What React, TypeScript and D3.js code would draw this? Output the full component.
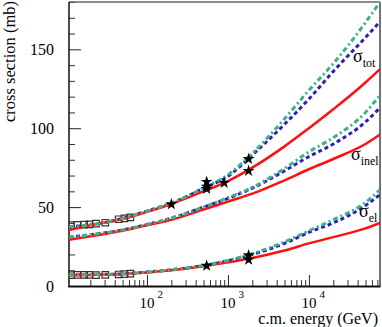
import React, { useEffect, useRef } from 'react';
import * as d3 from 'd3';

// c.m. energies (GeV) where the model curves were read
const energies = [10.9, 20, 50, 100, 200, 500, 1000, 2000, 5000, 10000, 20000, 50000, 75500];

// total cross section (mb)
const totRed = [35.5, 38.5, 42.5, 47, 52, 60, 66.5, 75, 88.5, 100, 112, 129, 137.5];
const totBlue = [37.5, 38.8, 42.8, 47.5, 52.5, 62, 69.5, 83, 102.5, 118.5, 136, 157.5, 167.5];
const totGreen = [37.5, 38.8, 42.8, 47.5, 52.5, 62, 70.5, 84, 106, 124, 141, 167, 180];

// inelastic
const inelRed = [29.3, 31.5, 35, 38.5, 42, 48.5, 53.5, 58.5, 67, 74, 80.5, 90, 96];
const inelBlue = [31, 32.5, 35.5, 39, 43, 50, 55.5, 62, 73, 82, 90, 104, 113];
const inelGreen = [31, 32.5, 35.5, 39, 43, 50, 56, 62.5, 74.5, 85, 94, 110, 121];

// elastic
const elRed = [6.8, 7, 7.5, 8.6, 10, 12.5, 15, 17.8, 22.5, 27, 31, 36.5, 40];
const elBlue = [7, 7.2, 7.7, 8.8, 10.3, 13, 16, 20, 27, 34, 40, 51, 58];
const elGreen = [7, 7.2, 7.7, 8.8, 10.3, 13, 16.2, 20.5, 28, 35, 42, 53, 61];

// data points
const squareE = [11.5, 13.8, 16.8, 19.4, 23.5, 30.6, 44.7, 52.8, 62.5];
const squareTot = [38.6, 38.7, 38.9, 39.1, 39.5, 40.1, 42.3, 42.9, 43.5];
const squareEl = [6.9, 7.0, 7.0, 7.0, 6.9, 7.1, 7.3, 7.5, 7.8];

const starTotE = [200, 546, 546, 546, 900, 1800, 1800];
const starTot = [51.8, 61.5, 63, 66, 65.4, 73, 80.5];
const starElE = [546, 1800, 1800];
const starEl = [12.8, 16.6, 19.5];

const xMajor = [100, 1000, 10000];
const xMajorExp = ['2', '3', '4'];
const yMajor = [0, 50, 100, 150];

const RED = '#ff1010';
const BLUE = '#2f1fb8';
const GREEN = '#3bb28a';
const FONT = "'Liberation Serif', 'Times New Roman', serif";

const App = () => {
  const ref = useRef<SVGSVGElement>(null);

  useEffect(() => {
    const svg = d3.select(ref.current);
    svg.selectAll('*').remove();

    const x = d3.scaleLog().domain([10.9, 75500]).range([69, 380]);
    const y = d3.scaleLinear().domain([0, 180]).range([286, 2]);

    svg.append('clipPath').attr('id', 'plot-clip')
      .append('rect').attr('x', 69).attr('y', 2).attr('width', 311).attr('height', 284);

    // y axis ticks
    const yMinor = d3.range(0, 181, 10).filter(v => v % 50 !== 0);
    svg.append('g')
      .attr('transform', 'translate(69,0)')
      .call(d3.axisLeft(y).tickValues(yMinor).tickSize(-6).tickFormat(() => ''))
      .call(g => g.select('.domain').remove())
      .attr('color', '#333');
    svg.append('g')
      .attr('transform', 'translate(69,0)')
      .call(d3.axisLeft(y).tickValues(yMajor).tickSize(-12).tickPadding(15).tickFormat(d3.format('d')))
      .call(g => g.select('.domain').remove())
      .attr('color', '#222')
      .selectAll('text')
      .style('font-family', FONT)
      .style('font-size', '16px')
      .attr('fill', '#000');

    // x axis ticks
    const xMinor: number[] = [];
    for (let p = 1; p <= 4; p++) {
      for (let k = 2; k <= 9; k++) {
        const v = k * Math.pow(10, p);
        if (v < 75500) xMinor.push(v);
      }
    }
    svg.append('g')
      .attr('transform', 'translate(0,286)')
      .call(d3.axisBottom(x).tickValues(xMinor).tickSize(-6).tickFormat(() => ''))
      .call(g => g.select('.domain').remove())
      .attr('color', '#333');
    svg.append('g')
      .attr('transform', 'translate(0,286)')
      .call(d3.axisBottom(x).tickValues(xMajor).tickSize(-11).tickFormat(() => ''))
      .call(g => g.select('.domain').remove())
      .attr('color', '#222');

    const xl = svg.append('g').style('font-family', FONT);
    xMajor.forEach((v, i) => {
      const t = xl.append('text').attr('x', x(v) - 7.5).attr('y', 308).style('font-size', '15px');
      t.append('tspan').text('10');
      t.append('tspan').attr('dx', 3).attr('dy', -10).style('font-size', '11px').text(xMajorExp[i]);
    });

    // frame
    svg.append('line').attr('x1', 69).attr('x2', 380).attr('y1', 2).attr('y2', 2)
      .attr('stroke', '#666').attr('stroke-width', 1.5);
    svg.append('line').attr('x1', 380).attr('x2', 380).attr('y1', 2).attr('y2', 286)
      .attr('stroke', '#444').attr('stroke-width', 1.5);
    svg.append('line').attr('x1', 69).attr('x2', 69).attr('y1', 2).attr('y2', 287)
      .attr('stroke', '#111').attr('stroke-width', 1.5);
    svg.append('line').attr('x1', 68.25).attr('x2', 380.5).attr('y1', 286.5).attr('y2', 286.5)
      .attr('stroke', '#111').attr('stroke-width', 2);

    const plot = svg.append('g').attr('clip-path', 'url(#plot-clip)');

    // squares
    const sq = d3.symbol().type(d3.symbolSquare).size(42);
    const squares = plot.append('g');
    [squareTot, squareEl].forEach(vals => {
      squares.selectAll(null)
        .data(squareE.map((e, i) => [e, vals[i]]))
        .enter().append('path')
        .attr('d', sq)
        .attr('transform', d => `translate(${x(d[0])},${y(d[1])})`)
        .attr('fill', 'none')
        .attr('stroke', '#333')
        .attr('stroke-width', 1.2);
    });

    const line = d3.line<number>()
      .x((_, i) => x(energies[i]))
      .y(d => y(d))
      .curve(d3.curveMonotoneX);

    const drawSet = (vals: number[][], color: string, width: number, dash: string | null) => {
      vals.forEach(v => {
        const p = plot.append('path')
          .attr('d', line(v))
          .attr('fill', 'none')
          .attr('stroke', color)
          .attr('stroke-width', width);
        if (dash) p.attr('stroke-dasharray', dash);
      });
    };
    drawSet([totBlue, inelBlue, elBlue], BLUE, 3, '4,3');
    drawSet([totRed, inelRed, elRed], RED, 2.5, null);
    drawSet([totGreen, inelGreen, elGreen], GREEN, 3, '5,3,2,3');

    // stars
    const st = d3.symbol().type(d3.symbolStar).size(44);
    [[starTotE, starTot], [starElE, starEl]].forEach(([es, vs]) => {
      plot.append('g').selectAll(null)
        .data(es.map((e, i) => [e, vs[i]]))
        .enter().append('path')
        .attr('d', st)
        .attr('transform', d => `translate(${x(d[0])},${y(d[1])})`)
        .attr('fill', '#000');
    });

    // curve labels
    const lab = svg.append('g').style('font-family', FONT).attr('fill', '#000');
    const sigma = (px: number, py: number, sub: string) => {
      const t = lab.append('text').attr('x', px).attr('y', py).style('font-size', '18px');
      t.append('tspan').text('σ');
      t.append('tspan').attr('dy', 5).style('font-size', '12px').text(sub);
    };
    sigma(353, 62, 'tot');
    sigma(351, 160, 'inel');
    sigma(359, 217, 'el');

    // axis titles
    svg.append('text')
      .attr('x', 378).attr('y', 324)
      .attr('text-anchor', 'end')
      .style('font-family', FONT).style('font-size', '16px')
      .text('c.m. energy (GeV)');
    svg.append('text')
      .attr('transform', 'translate(15,1) rotate(-90)')
      .attr('text-anchor', 'end')
      .style('font-family', FONT).style('font-size', '16.5px')
      .text('cross section (mb)');
  }, []);

  return (
    <svg ref={ref} width={382} height={327}
      style={{ position: 'absolute', left: 0, top: 0, background: '#fff' }} />
  );
};

export default App;
